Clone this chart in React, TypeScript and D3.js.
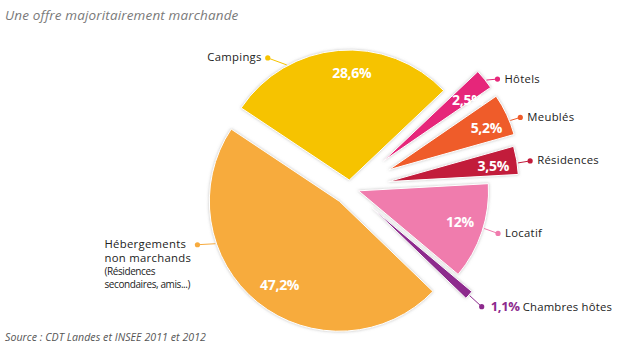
import React from 'react';
import * as d3 from 'd3';

// ---- data ----
const categories = ['Campings', 'Hôtels', 'Meublés', 'Résidences', 'Locatif', 'Chambres hôtes', 'Hébergements non marchands'];
const values = [28.6, 2.5, 5.2, 3.5, 12, 1.1, 47.2];
const valueLabels = ['28,6%', '2,5%', '5,2%', '3,5%', '12%', '1,1%', '47,2%'];
const title = 'Une offre majoritairement marchande';
const source = 'Source : CDT Landes et INSEE 2011 et 2012';
const extraLines = ['(Résidences', 'secondaires, amis...)'];

// ---- styles / layout ----
const colors = ['#F6C300', '#E6287A', '#EF5B2A', '#C21B3B', '#F07BAD', '#8D2A8D', '#F7AB3E'];
const explode = [8, 43, 43, 39, 9, 30, 17];
const labelFrac = [0.56, 0.85, 0.6, 0.56, 0.47, 0.5, 0.48];
const labelRadius = [107, 104, 106, 106, 106, 0, 103];
const anchorFrac = [0.27, 0.59, 0.66, 0.6, 0.46, 0.5, 0.69];
const dotOffset: [number, number][] = [[-19, -7], [11, -1], [10, -3], [12, -2], [14, 5], [12, 11], [-18, 1]];

const W = 626, H = 352;
const cx = 350, cy = 188, R = 130;
const startDeg = -56.3;

export default function App() {
  const pie = d3.pie<number>().sort(null).value(d => d)
    .startAngle(startDeg * Math.PI / 180)
    .endAngle(startDeg * Math.PI / 180 + 2 * Math.PI);
  const arcs = pie(values);
  const arcGen = d3.arc<d3.PieArcDatum<number>>().innerRadius(0).outerRadius(R);
  const polar = (a: number, r: number): [number, number] => [r * Math.sin(a), -r * Math.cos(a)];
  const font = "'Open Sans', 'DejaVu Sans', sans-serif";

  return (
    <svg width={W} height={H} style={{ position: 'absolute', left: 0, top: 0, background: '#fff' }}>
      <defs>
        <filter id="sh" x="-30%" y="-30%" width="160%" height="160%">
          <feDropShadow dx="0" dy="0" stdDeviation="1.4" floodColor="#8a8a8a" floodOpacity="0.55" />
        </filter>
      </defs>
      <text x={5} y={20} fontFamily={font} fontStyle="italic" fontSize={13.5} letterSpacing={0.15} fill="#7a7a7a">{title}</text>
      <text x={5} y={341} fontFamily={font} fontStyle="italic" fontSize={10.6} letterSpacing={0.05} fill="#555">{source}</text>
      {arcs.map((a, i) => {
        const mid = (a.startAngle + a.endAngle) / 2;
        const [ox, oy] = polar(mid, explode[i]);
        const tx = cx + ox, ty = cy + oy;
        return (
          <g key={'s' + i} transform={`translate(${tx},${ty})`}>
            <path d={arcGen(a) || ''} fill={colors[i]} stroke="#fff" strokeWidth={1} filter="url(#sh)" />
          </g>
        );
      })}
      {arcs.map((a, i) => {
        const mid = (a.startAngle + a.endAngle) / 2;
        const [ox, oy] = polar(mid, explode[i]);
        const tx = cx + ox, ty = cy + oy;
        const aa = a.startAngle + (a.endAngle - a.startAngle) * anchorFrac[i];
        const [ax, ay] = polar(aa, R + 1);
        const px = tx + ax, py = ty + ay;
        const dx = px + dotOffset[i][0], dy = py + dotOffset[i][1];
        const la = a.startAngle + (a.endAngle - a.startAngle) * labelFrac[i];
        const [lx, ly] = polar(la, labelRadius[i]);
        const isLeft = i === 0;
        const isNonMarch = i === 6;
        const isChambres = i === 5;
        return (
          <g key={'l' + i}>
            <line x1={px} y1={py} x2={dx} y2={dy} stroke={colors[i]} strokeWidth={1} />
            <circle cx={dx} cy={dy} r={2.6} fill={colors[i]} />
            {!isChambres && (
              <text x={tx + lx} y={ty + ly + 5} textAnchor="middle" fontFamily={font} fontWeight="bold"
                fontSize={14} fill="#fff" letterSpacing={-0.3}>{valueLabels[i]}</text>
            )}
            {isLeft && (
              <text x={dx - 6} y={dy + 3.5} textAnchor="end" fontFamily={font} fontSize={11.3}
                letterSpacing={0.3} fill="#222">{categories[i]}</text>
            )}
            {!isLeft && !isNonMarch && !isChambres && (
              <text x={dx + 7} y={dy + 3.5} textAnchor="start" fontFamily={font} fontSize={11.3}
                letterSpacing={0.3} fill="#222">{categories[i]}</text>
            )}
            {isChambres && (
              <text x={dx + 9} y={dy + 4} textAnchor="start" fontFamily={font} fill="#222">
                <tspan fontWeight="bold" fontSize={13} fill={colors[i]} letterSpacing={-0.3}>{valueLabels[i]}</tspan>
                <tspan dx={3} fontSize={11.3} letterSpacing={0.2}>{categories[i]}</tspan>
              </text>
            )}
            {isNonMarch && (
              <text x={dx - 93} y={dy + 3} textAnchor="start" fontFamily={font} fill="#222">
                <tspan x={dx - 93} dy={0} fontSize={11.3} letterSpacing={0.3}>{'Hébergements'}</tspan>
                <tspan x={dx - 93} dy={14} fontSize={11.3} letterSpacing={0.3}>{'non marchands'}</tspan>
                <tspan x={dx - 93} dy={13.5} fontSize={10} letterSpacing={-0.4}>{extraLines[0]}</tspan>
                <tspan x={dx - 93} dy={13} fontSize={10} letterSpacing={-0.4}>{extraLines[1]}</tspan>
              </text>
            )}
          </g>
        );
      })}
    </svg>
  );
}
